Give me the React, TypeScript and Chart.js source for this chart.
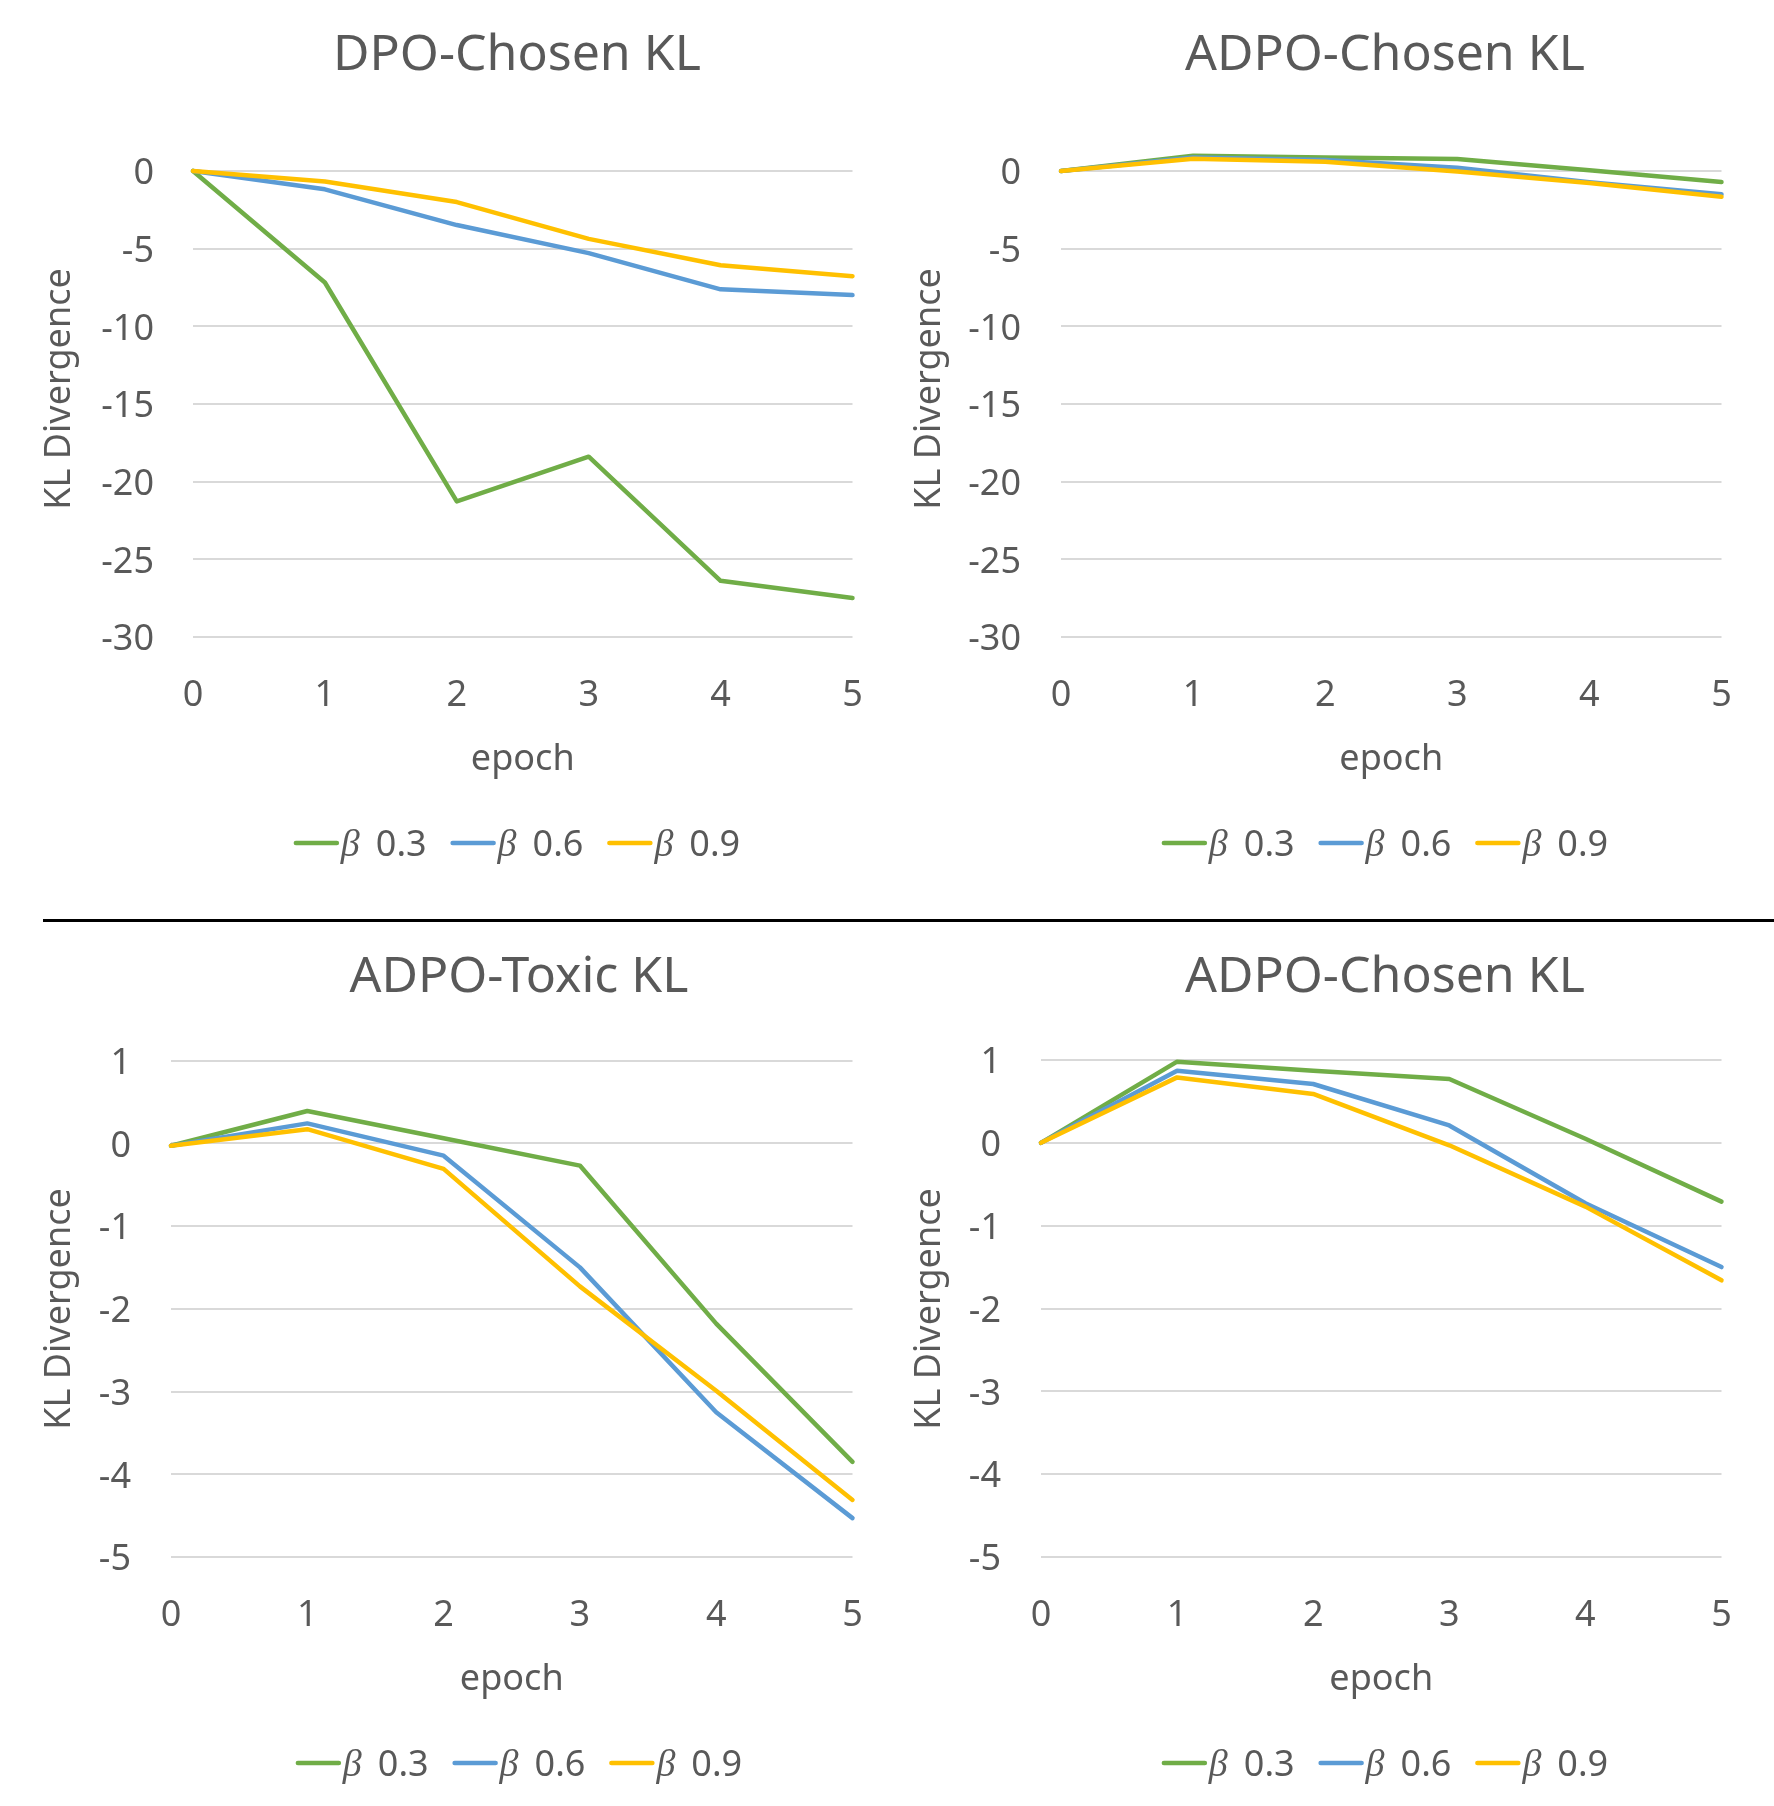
import React, { useEffect, useRef } from 'react';
import { Chart, registerables } from 'chart.js';

Chart.register(...registerables);

// ---- data ----
const epochs = ['0', '1', '2', '3', '4', '5'];
const betaLabels = ['0.3', '0.6', '0.9'];

const dpoChosenB03 = [0, -7.18, -21.27, -18.39, -26.38, -27.49];
const dpoChosenB06 = [0, -1.18, -3.48, -5.29, -7.62, -7.99];
const dpoChosenB09 = [0, -0.67, -2.0, -4.37, -6.07, -6.77];

const adpoChosenB03 = [0, 0.98, 0.87, 0.77, 0.05, -0.71];
const adpoChosenB06 = [0, 0.87, 0.71, 0.21, -0.73, -1.5];
const adpoChosenB09 = [0, 0.79, 0.59, -0.03, -0.77, -1.66];

const adpoToxicB03 = [-0.03, 0.39, 0.06, -0.27, -2.18, -3.85];
const adpoToxicB06 = [-0.03, 0.24, -0.15, -1.5, -3.25, -4.53];
const adpoToxicB09 = [-0.03, 0.17, -0.31, -1.73, -2.99, -4.31];

const wideRange = { min: -30, max: 0, step: 5 };
const narrowRange = { min: -5, max: 1, step: 1 };

const seriesColors = ['#70AD47', '#5B9BD5', '#FFC000'];
const TEXT = '#595959';
const FONT = '"Noto Sans", "Open Sans", sans-serif';

// panel geometry (canvas-relative px)
const X_TICK_PAD = 37;
const X_TITLE_PAD = 21;
const X_SCALE_HEIGHT = 144.4; // tick pad + label line + title pad + title line
const X_SCALE_BOTTOM = 781.4;

const panels = [
  {
    key: 'tl', title: 'DPO-Chosen KL', series: [dpoChosenB03, dpoChosenB06, dpoChosenB09], range: wideRange,
    x: 0, y: 0, w: 887, h: 920, left: 193, right: 852.5, top: 171, tickGap: 39, yTitleX: 62, cx: 517, titleY: 51.7,
  },
  {
    key: 'tr', title: 'ADPO-Chosen KL', series: [adpoChosenB03, adpoChosenB06, adpoChosenB09], range: wideRange,
    x: 887, y: 0, w: 887, h: 920, left: 174, right: 834.5, top: 171, tickGap: 40, yTitleX: 45, cx: 498, titleY: 51.7,
  },
  {
    key: 'bl', title: 'ADPO-Toxic KL', series: [adpoToxicB03, adpoToxicB06, adpoToxicB09], range: narrowRange,
    x: 0, y: 920, w: 887, h: 886, left: 171, right: 852.5, top: 140.5, tickGap: 40, yTitleX: 62, cx: 519, titleY: 54,
  },
  {
    key: 'br', title: 'ADPO-Chosen KL', series: [adpoChosenB03, adpoChosenB06, adpoChosenB09], range: narrowRange,
    x: 887, y: 920, w: 887, h: 886, left: 154, right: 834.5, top: 140, tickGap: 40, yTitleX: 45, cx: 498, titleY: 54,
  },
];

// title, rotated y title and the compact Excel-like legend
const decorPlugin = {
  id: 'decor',
  afterDraw(chart: any, _args: any, opts: any) {
    const { ctx } = chart;
    ctx.save();
    ctx.fillStyle = TEXT;

    ctx.font = `50px ${FONT}`;
    ctx.textAlign = 'center';
    ctx.textBaseline = 'alphabetic';
    ctx.fillText(opts.title, opts.cx, opts.titleY + 0.357 * 50);

    ctx.save();
    ctx.translate(opts.yTitleX - 1.8, 389);
    ctx.rotate(-Math.PI / 2);
    ctx.font = `36px ${FONT}`;
    ctx.textBaseline = 'middle';
    ctx.fillText('KL Divergence', 0, 0);
    ctx.restore();

    const lineW = 45;
    const betaFont = `italic 38px "Liberation Serif", serif`;
    const numFont = `36px ${FONT}`;
    const items = chart.data.datasets.map((ds: any, i: number) => {
      ctx.font = betaFont;
      const wb = ctx.measureText('β').width;
      ctx.font = numFont;
      const wn = ctx.measureText(betaLabels[i]).width;
      return { color: ds.borderColor, text: betaLabels[i], wb, wn, w: lineW + 2 + wb + 16 + wn };
    });
    const gap = 24;
    const total = items.reduce((s: number, it: any) => s + it.w, 0) + gap * (items.length - 1);
    let x = opts.cx - total / 2;
    const y = opts.legendY;
    ctx.textAlign = 'left';
    ctx.textBaseline = 'alphabetic';
    for (const it of items) {
      ctx.strokeStyle = it.color;
      ctx.lineWidth = 4.5;
      ctx.lineCap = 'round';
      ctx.beginPath();
      ctx.moveTo(x + 2, y);
      ctx.lineTo(x + lineW - 2, y);
      ctx.stroke();
      ctx.font = betaFont;
      ctx.fillText('β', x + lineW + 2, y + 13);
      ctx.font = numFont;
      ctx.fillText(it.text, x + lineW + 2 + it.wb + 16, y + 0.357 * 36);
      x += it.w + gap;
    }
    ctx.restore();
  },
};

function KLPanel({ p }: { p: any }) {
  const canvasRef = useRef<HTMLCanvasElement>(null);

  useEffect(() => {
    if (!canvasRef.current) return;
    const chart = new Chart(canvasRef.current, {
      type: 'line',
      data: {
        labels: epochs,
        datasets: p.series.map((values: number[], i: number) => ({
          label: 'β ' + betaLabels[i],
          data: values,
          borderColor: seriesColors[i],
          backgroundColor: seriesColors[i],
          borderWidth: 4.5,
          borderCapStyle: 'round',
          borderJoinStyle: 'round',
          pointRadius: 0,
          tension: 0,
          clip: false,
          order: 2 - i,
        })),
      },
      options: {
        animation: false,
        responsive: false,
        devicePixelRatio: 1,
        layout: {
          padding: { left: 0, right: p.w - p.right, top: p.top, bottom: p.h - X_SCALE_BOTTOM },
        },
        plugins: {
          legend: { display: false },
          tooltip: { enabled: false },
          title: { display: false },
          decor: { title: p.title, cx: p.cx, titleY: p.titleY, yTitleX: p.yTitleX, legendY: 843 },
        },
        scales: {
          x: {
            type: 'category',
            offset: false,
            grid: { display: false, drawTicks: false, tickLength: 0 },
            border: { display: false },
            ticks: { color: TEXT, font: { family: FONT, size: 36 }, padding: X_TICK_PAD, maxRotation: 0 },
            title: {
              display: true,
              text: 'epoch',
              color: TEXT,
              font: { family: FONT, size: 36 },
              padding: { top: X_TITLE_PAD, bottom: 0 },
            },
            afterFit: (scale: any) => {
              scale.height = X_SCALE_HEIGHT;
              scale.paddingLeft = 0;
              scale.paddingRight = 0;
            },
          },
          y: {
            min: p.range.min,
            max: p.range.max,
            grid: { color: '#D9D9D9', lineWidth: 2, drawTicks: false, tickLength: 0 },
            border: { display: false },
            ticks: {
              stepSize: p.range.step,
              color: TEXT,
              font: { family: FONT, size: 36 },
              padding: p.tickGap,
              labelOffset: 3,
            },
            afterFit: (scale: any) => {
              scale.width = p.left;
              scale.paddingTop = 0;
              scale.paddingBottom = 0;
            },
          },
        },
      },
      plugins: [decorPlugin],
    } as any);

    return () => {
      chart.destroy();
    };
  }, [p]);

  return (
    <canvas
      ref={canvasRef}
      width={p.w}
      height={p.h}
      style={{ position: 'absolute', left: p.x, top: p.y, width: p.w, height: p.h }}
    />
  );
}

export default function App() {
  return (
    <div style={{ position: 'relative', width: 1774, height: 1806, overflow: 'hidden', background: '#fff' }}>
      <style>{'body{margin:0;overflow:hidden;background:#fff}'}</style>
      {panels.map((p) => (
        <KLPanel key={p.key} p={p} />
      ))}
      <div style={{ position: 'absolute', left: 43, top: 919, width: 1731, height: 3, background: '#000' }} />
    </div>
  );
}
